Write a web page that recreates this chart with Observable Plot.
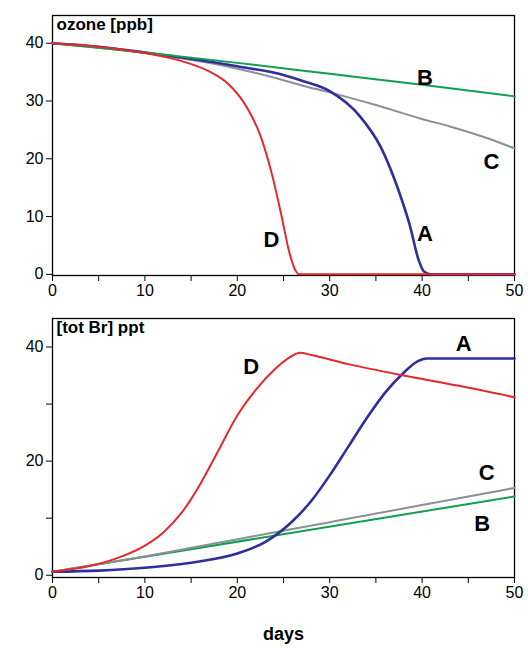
<!DOCTYPE html>
<html><head><meta charset="utf-8">
<script src="https://cdn.jsdelivr.net/npm/d3@7"></script>
<script src="https://cdn.jsdelivr.net/npm/@observablehq/plot@0.6"></script>
<style>body{margin:0;background:#fff;font-family:"Liberation Sans",Arial,sans-serif}svg{display:block}</style>
</head><body><div id="c"></div>
<script>
const ozA=[[0,40],[5,39.4],[10,38.4],[15,37.3],[20,36.0],[25,34.5],[27,33.5],[30,31.7],[33.3,27.3],[35.5,22.1],[37.3,15.2],[38.7,8.3],[39.6,2.6],[40.2,0.5],[41,0],[50,0]];
const ozB=[[0,40],[10,38.4],[20,36.6],[30,34.7],[40,32.8],[50,30.8]];
const ozC=[[0,40],[10,38.3],[20,35.6],[25,33.6],[27,32.7],[30,31.5],[35,29.3],[40,26.9],[43,25.6],[47,23.6],[50,21.8]];
const ozD=[[0,40],[5,39.4],[10,38.3],[14,36.9],[17,35.1],[19,33],[21,29],[22.5,24],[23.8,17],[24.8,10],[25.6,4],[26.2,1],[26.7,0],[50,0]];
const brA=[[0,0.6],[5,0.8],[10,1.3],[15,2.2],[20,3.8],[23,5.8],[26,9.5],[28,13],[30,17.5],[32,22.5],[34,27.5],[36,32],[38,35.5],[39.5,37.5],[40.5,38],[50,38]];
const brB=[[0,0.6],[50,13.8]];
const brC=[[0,0.6],[10,3.3],[20,6.3],[30,9.3],[40,12.3],[50,15.3]];
const brD=[[0,0.6],[4,1.6],[7,3],[10,5.2],[12,7.5],[14,11],[16,16],[18,22],[20,28],[22,32.5],[24,36],[25.5,38],[26.8,39],[28,38.6],[32,37],[38,35],[44,33.2],[50,31.2]];
const ozTicks=[0,10,20,30,40];
const brTicks=[0,20,40];
const brMinor=[10,30];
const xTicks=[0,10,20,30,40,50];
const xMinor=[5,15,25,35,45];
const col={A:"#2e2e9e",B:"#10a04a",C:"#8a9098",D:"#e8272c"};
const ozLabels=[{x:40.3,y:7,t:"A"},{x:40.3,y:34,t:"B"},{x:47.5,y:19.5,t:"C"},{x:23.7,y:6,t:"D"}];
const brLabels=[{x:44.5,y:40.5,t:"A"},{x:46.5,y:9,t:"B"},{x:47,y:18,t:"C"},{x:21.5,y:36.5,t:"D"}];

function panel(series,labels,yt,ym,ydom,title,h,mt,mb,xlabel){
  const marks=[
    Plot.frame({stroke:"#000",strokeWidth:1.3}),
    Plot.axisX(xTicks,{tickSize:6,label:xlabel,labelAnchor:"center",labelArrow:"none",labelOffset:62}),
    Plot.axisX(xMinor,{tickSize:6,tickFormat:()=>"",label:null}),
    Plot.axisY(yt,{tickSize:6,label:null}),
  ];
  if(ym.length) marks.push(Plot.axisY(ym,{tickSize:6,tickFormat:()=>"",label:null}));
  for(const [k,d] of series) marks.push(Plot.line(d,{x:"0",y:"1",stroke:col[k],strokeWidth:k=="A"?2.6:2,curve:"monotone-x"}));
  marks.push(Plot.text(labels,{x:"x",y:"y",text:"t",fontSize:22,fontWeight:"bold",fill:"#000"}));
  marks.push(Plot.text([title],{frameAnchor:"top-left",dx:4,dy:2,text:d=>d,fontSize:17,fontWeight:"bold",textAnchor:"start",lineAnchor:"top"}));
  return Plot.plot({width:528,height:h,marginLeft:52,marginRight:14,marginTop:mt,marginBottom:mb,
    style:{fontFamily:"Liberation Sans, Arial, sans-serif",fontSize:"16px",color:"#000",background:"#fff"},
    x:{domain:[0,50]},
    y:{domain:ydom},
    marks});
}
const c=document.getElementById("c");
const p1=panel([["C",ozC],["A",ozA],["B",ozB],["D",ozD]],ozLabels,ozTicks,[],[-0.2,44.8],"ozone [ppb]",302,15,27,null);
const p2=panel([["B",brB],["C",brC],["A",brA],["D",brD]],brLabels,brTicks,brMinor,[-0.4,45],"[tot Br] ppt",346,16,71,"days");
p2.querySelectorAll("text").forEach(t=>{if(t.textContent==="days"){t.style.fontWeight="bold";t.style.fontSize="18px";}});
c.append(p1,p2);
</script></body></html>
